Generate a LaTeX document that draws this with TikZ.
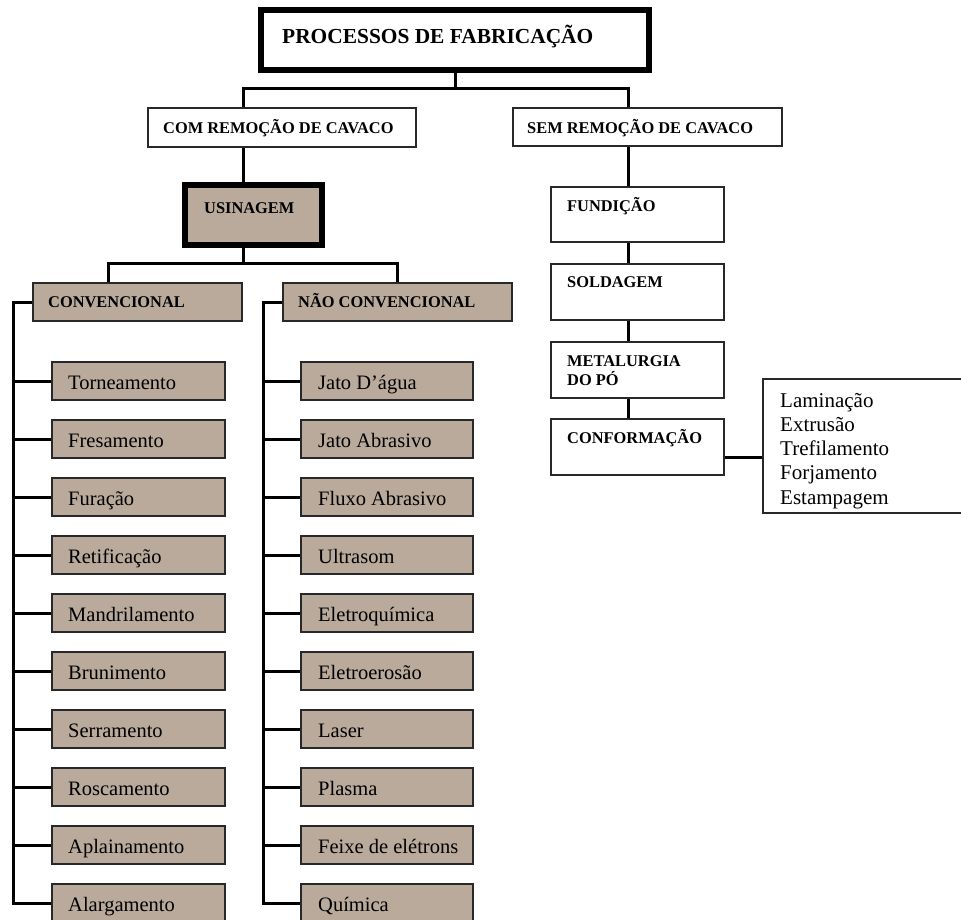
\documentclass[tikz,border=0pt]{standalone}
\usepackage{fontspec}
\setmainfont{Liberation Serif}
\usetikzlibrary{calc,fit}
\definecolor{tanfill}{RGB}{185,170,155}
\definecolor{boxline}{RGB}{40,40,40}
\begin{document}
\begin{tikzpicture}[x=1pt,y=-1pt,
  box/.style={draw=boxline, line width=2pt, inner sep=0pt, rectangle},
  heavybox/.style={draw=black, line width=6pt, inner sep=0pt, rectangle},
  conn/.style={draw=black, line width=3pt},
  titletxt/.style={font=\fontsize{21.4}{24}\selectfont\bfseries, anchor=base west, inner sep=0pt},
  caps/.style={font=\fontsize{16.4}{18}\selectfont\bfseries, anchor=base west, inner sep=0pt},
  item/.style={font=\fontsize{20.5}{24}\selectfont, anchor=base west, inner sep=0pt},
  listtxt/.style={font=\fontsize{21}{24.3}\selectfont, anchor=base west, inner sep=0pt, align=left}]
\useasboundingbox (0,0) rectangle (961,919);

% top level
\node[heavybox, fit={(261,10) (649,70)}] (title) {};
\node[titletxt] (ttitle) at (282,43) {PROCESSOS DE FABRICAÇÃO};

\node[box, fit={(148,108) (416,147)}] (com) {};
\node[caps] (tcom) at (163,133) {COM REMOÇÃO DE CAVACO};
\node[box, fit={(513,108) (782,146)}] (sem) {};
\node[caps] (tsem) at (527,133) {SEM REMOÇÃO DE CAVACO};

\node[heavybox, fill=tanfill, fit={(185,185) (322,245)}] (usin) {};
\node[caps] (tusin) at (204,213) {USINAGEM};

\node[box, fill=tanfill, fit={(33,283) (242,321)}] (conv) {};
\node[caps] (tconv) at (48,307) {CONVENCIONAL};
\node[box, fill=tanfill, fit={(283,283) (512,321)}] (nao) {};
\node[caps] (tnao) at (298,307) {NÃO CONVENCIONAL};

% right column
\node[box, fit={(551,187) (724,242)}] (fund) {};
\node[caps] (tfund) at (567,211) {FUNDIÇÃO};
\node[box, fit={(551,264) (724,320)}] (sold) {};
\node[caps] (tsold) at (567,287) {SOLDAGEM};
\node[box, fit={(551,342) (724,398)}] (meta) {};
\node[caps] (tmeta1) at (567,366) {METALURGIA};
\node[caps] (tmeta2) at (567,385) {DO PÓ};
\node[box, fit={(551,419) (724,475)}] (conf) {};
\node[caps] (tconf) at (567,443) {CONFORMAÇÃO};
\node[box, fit={(763,379) (985,513)}] (list) {};
\node[listtxt] (tl1) at (780,407) {Laminação};
\node[listtxt] (tl2) at (780,431.3) {Extrusão};
\node[listtxt] (tl3) at (780,455.6) {Trefilamento};
\node[listtxt] (tl4) at (780,479.9) {Forjamento};
\node[listtxt] (tl5) at (780,504.2) {Estampagem};

% coordinates for connector bends
\coordinate (tl) at (243,88);
\coordinate (tr) at (628,88);
\coordinate (ux) at (243,263);
\coordinate (cl) at (108,263);
\coordinate (cr) at (397,263);
\coordinate (ls) at (13,302);
\coordinate (rs) at (263,302);
\coordinate (cy) at (0,457);

% items
\foreach \t [count=\i] in {Torneamento,Fresamento,Furação,Retificação,Mandrilamento,Brunimento,Serramento,Roscamento,Aplainamento,Alargamento} {
  \pgfmathsetmacro\yc{381+58*(\i-1)}
  \node[box, fill=tanfill, minimum width=173pt, minimum height=38pt] (l\i) at (138.5,\yc) {};
  \node[item] (lt\i) at (68,\yc+8) {\t};
  \draw[conn] (l\i.west) -- (l\i.west -| ls);
}
\foreach \t [count=\i] in {Jato D’água,Jato Abrasivo,Fluxo Abrasivo,Ultrasom,Eletroquímica,Eletroerosão,Laser,Plasma,Feixe de elétrons,Química} {
  \pgfmathsetmacro\yc{381+58*(\i-1)}
  \node[box, fill=tanfill, minimum width=172pt, minimum height=38pt] (r\i) at (387,\yc) {};
  \node[item] (rt\i) at (318,\yc+8) {\t};
  \draw[conn] (r\i.west) -- (r\i.west -| rs);
}

% connectors
\draw[conn] (title.south) -- (title.south |- tl);
\draw[conn] (com.north -| tl) -- (tl) -- (tr) -- (sem.north -| tr);
\draw[conn] (com.south -| tl) -- (usin.north -| tl);
\draw[conn] (usin.south -| ux) -- (ux);
\draw[conn] (conv.north -| cl) -- (cl) -- (cr) -- (nao.north -| cr);
\draw[conn] (conv.west) -- (ls) -- (l10.west -| ls) -- (l10.west);
\draw[conn] (nao.west) -- (rs) -- (r10.west -| rs) -- (r10.west);
\draw[conn] (sem.south -| tr) -- (fund.north -| tr);
\draw[conn] (fund.south -| tr) -- (sold.north -| tr);
\draw[conn] (sold.south -| tr) -- (meta.north -| tr);
\draw[conn] (meta.south -| tr) -- (conf.north -| tr);
\draw[conn] (conf.east |- cy) -- (list.west |- cy);
\end{tikzpicture}
\end{document}
